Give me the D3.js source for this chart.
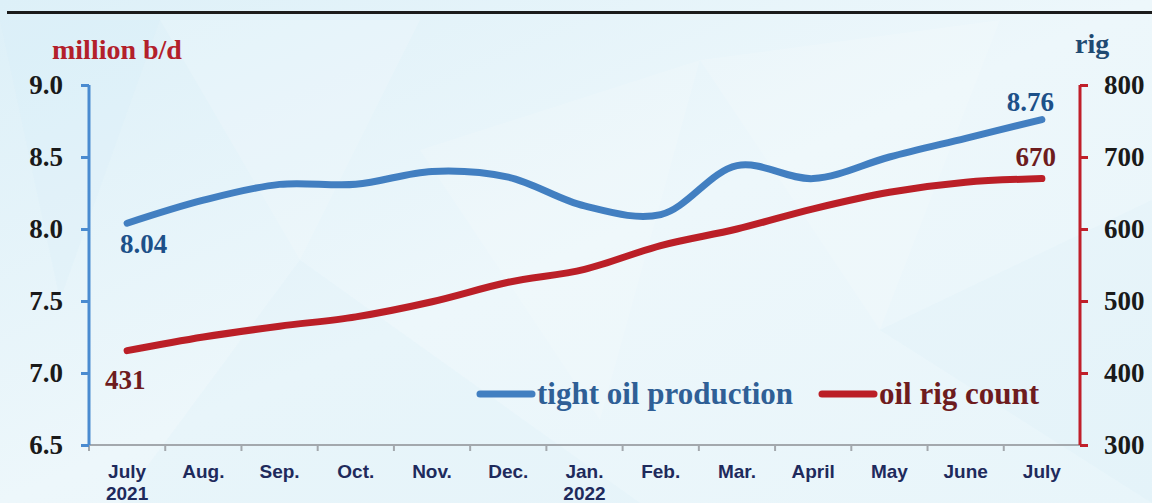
<!DOCTYPE html>
<html>
<head>
<meta charset="utf-8">
<script src="https://cdn.jsdelivr.net/npm/d3@7"></script>
<style>
  html, body { margin: 0; padding: 0; background: #eaf5fa; }
  svg { display: block; }
</style>
</head>
<body>
<div id="chart"></div>
<script>
  // data
  const months = ['July', 'Aug.', 'Sep.', 'Oct.', 'Nov.', 'Dec.', 'Jan.', 'Feb.', 'Mar.', 'April', 'May', 'June', 'July'];
  const years = ['2021', '', '', '', '', '', '2022', '', '', '', '', '', ''];
  const tightOil = [8.04, 8.20, 8.31, 8.31, 8.40, 8.36, 8.16, 8.10, 8.44, 8.35, 8.50, 8.63, 8.76];
  const rigCount = [431, 450, 465, 478, 499, 526, 544, 577, 600, 628, 651, 665, 670];
  const leftTicks = [6.5, 7.0, 7.5, 8.0, 8.5, 9.0];
  const rightTicks = [300, 400, 500, 600, 700, 800];

  let width = 1152;
  let height = 503;

  let svg = d3.select('#chart')
  .append('svg')
  .attr('width', width)
  .attr('height', height);

  let defs = svg.append('defs');
  let grad = defs.append('linearGradient')
  .attr('id', 'bg')
  .attr('x1', 0).attr('y1', 0).attr('x2', 1).attr('y2', 1);
  grad.append('stop').attr('offset', '0%').attr('stop-color', '#ddf0f8');
  grad.append('stop').attr('offset', '50%').attr('stop-color', '#edf7fb');
  grad.append('stop').attr('offset', '100%').attr('stop-color', '#e8f5fa');

  svg.append('rect')
  .attr('width', width).attr('height', height)
  .attr('fill', 'url(#bg)');

  // faint facets in the background
  const facets = [
    [[0, 20], [160, 20], [60, 300]],
    [[160, 20], [420, 20], [300, 260]],
    [[300, 260], [640, 503], [120, 503]],
    [[700, 60], [1000, 20], [880, 330]],
    [[880, 330], [1152, 200], [1152, 503]],
    [[420, 150], [700, 60], [600, 420]]
  ];
  svg.append('g').selectAll('path')
  .data(facets)
  .enter().append('path')
  .attr('d', (d) => d3.line()(d) + 'Z')
  .attr('fill', (d, i) => i % 2 ? '#ffffff' : '#d3ebf5')
  .attr('opacity', 0.15);

  // top rule
  svg.append('line')
  .attr('x1', 7).attr('x2', width)
  .attr('y1', 12.5).attr('y2', 12.5)
  .attr('stroke', '#1b1b1b')
  .attr('stroke-width', 3);

  //scales
  let x = d3.scaleBand().domain(d3.range(months.length)).range([89, 1080]);
  let cx = (i) => x(i) + x.bandwidth() / 2;
  let yLeft = d3.scaleLinear().domain([6.5, 9]).range([445, 85]);
  let yRight = d3.scaleLinear().domain([300, 800]).range([445, 85]);

  const serif = '"Liberation Serif", "Times New Roman", serif';
  const sans = '"Liberation Sans", Arial, sans-serif';

  // bottom axis: line + ticks at band edges
  let xAxis = svg.append('g');
  xAxis.append('line')
  .attr('x1', 89).attr('x2', 1080)
  .attr('y1', 445).attr('y2', 445)
  .attr('stroke', '#a3a8ad')
  .attr('stroke-width', 2);
  xAxis.selectAll('.xtick')
  .data(d3.range(months.length))
  .enter().append('line')
  .attr('class', 'xtick')
  .attr('x1', (d) => x(d)).attr('x2', (d) => x(d))
  .attr('y1', 445).attr('y2', 451)
  .attr('stroke', '#a3a8ad')
  .attr('stroke-width', 2);

  let xLabels = xAxis.selectAll('.xlabel')
  .data(months)
  .enter().append('text')
  .attr('class', 'xlabel')
  .attr('x', (d, i) => cx(i))
  .attr('y', 478)
  .attr('text-anchor', 'middle')
  .attr('font-family', sans)
  .attr('font-weight', 'bold')
  .attr('font-size', 19)
  .attr('fill', '#1e2a5c');
  xLabels.append('tspan').text((d) => d);
  xLabels.append('tspan')
  .attr('x', (d, i) => cx(i))
  .attr('dy', 22)
  .text((d, i) => years[i]);

  // left axis
  let leftAxis = svg.append('g')
  .attr('transform', 'translate(89,0)')
  .call(d3.axisLeft(yLeft).tickValues(leftTicks).tickSize(8).tickPadding(18).tickFormat(d3.format('.1f')));
  leftAxis.select('.domain').attr('stroke', '#4a8bd0').attr('stroke-width', 3).attr('d', 'M0,85V445');
  leftAxis.selectAll('.tick line').attr('stroke', '#4a8bd0').attr('stroke-width', 3);
  leftAxis.selectAll('.tick text')
  .attr('font-family', serif).attr('font-weight', 'bold').attr('font-size', 27).attr('fill', '#1a1a1a');

  // right axis
  let rightAxis = svg.append('g')
  .attr('transform', 'translate(1080,0)')
  .call(d3.axisRight(yRight).tickValues(rightTicks).tickSize(8).tickPadding(16));
  rightAxis.select('.domain').attr('stroke', '#c01f2a').attr('stroke-width', 3).attr('d', 'M0,85V445');
  rightAxis.selectAll('.tick line').attr('stroke', '#c01f2a').attr('stroke-width', 3);
  rightAxis.selectAll('.tick text')
  .attr('font-family', serif).attr('font-weight', 'bold').attr('font-size', 27).attr('fill', '#1a1a1a');

  // axis titles
  svg.append('text')
  .attr('x', 52).attr('y', 59)
  .attr('font-family', serif).attr('font-weight', 'bold').attr('font-size', 28)
  .attr('fill', '#b3202b')
  .text('million b/d');
  svg.append('text')
  .attr('x', 1075).attr('y', 53)
  .attr('font-family', serif).attr('font-weight', 'bold').attr('font-size', 28)
  .attr('fill', '#1f4a72')
  .text('rig');

  // lines
  let blueLine = d3.line()
  .x((d, i) => cx(i))
  .y((d) => yLeft(d))
  .curve(d3.curveCatmullRom.alpha(0.5));
  let redLine = d3.line()
  .x((d, i) => cx(i))
  .y((d) => yRight(d))
  .curve(d3.curveCatmullRom.alpha(0.5));

  svg.append('path')
  .datum(rigCount)
  .attr('d', redLine)
  .attr('fill', 'none')
  .attr('stroke', '#bb1f27')
  .attr('stroke-width', 7)
  .attr('stroke-linecap', 'round');

  svg.append('path')
  .datum(tightOil)
  .attr('d', blueLine)
  .attr('fill', 'none')
  .attr('stroke', '#427fc1')
  .attr('stroke-width', 7)
  .attr('stroke-linecap', 'round');

  // end labels
  let last = months.length - 1;
  const labelStyle = (sel, color) => sel
  .attr('font-family', serif).attr('font-weight', 'bold').attr('font-size', 27)
  .attr('fill', color);

  svg.append('text')
  .attr('x', cx(0) - 7).attr('y', yLeft(tightOil[0]) + 30)
  .call(labelStyle, '#1d5089')
  .text(tightOil[0].toFixed(2));
  svg.append('text')
  .attr('x', cx(last) + 12).attr('y', yLeft(tightOil[last]) - 9)
  .attr('text-anchor', 'end')
  .call(labelStyle, '#1d5089')
  .text(tightOil[last].toFixed(2));
  svg.append('text')
  .attr('x', cx(0) - 22).attr('y', yRight(rigCount[0]) + 38)
  .call(labelStyle, '#6e1c1e')
  .text(rigCount[0]);
  svg.append('text')
  .attr('x', cx(last) + 14).attr('y', yRight(rigCount[last]) - 13)
  .attr('text-anchor', 'end')
  .call(labelStyle, '#6e1c1e')
  .text(rigCount[last]);

  // legend
  const legend = [
    {name: 'tight oil production', x: 480, line: '#427fc1', text: '#2f5f96'},
    {name: 'oil rig count', x: 822, line: '#bb1f27', text: '#6e1c1e'}
  ];
  let lg = svg.selectAll('.legend')
  .data(legend)
  .enter().append('g')
  .attr('class', 'legend')
  .attr('transform', (d) => `translate(${d.x}, 394)`);
  lg.append('line')
  .attr('x1', 0).attr('x2', 52)
  .attr('stroke', (d) => d.line)
  .attr('stroke-width', 7)
  .attr('stroke-linecap', 'round');
  lg.append('text')
  .attr('x', 57).attr('y', 10)
  .attr('font-family', serif).attr('font-weight', 'bold').attr('font-size', 31)
  .attr('fill', (d) => d.text)
  .text((d) => d.name);
</script>
</body>
</html>
